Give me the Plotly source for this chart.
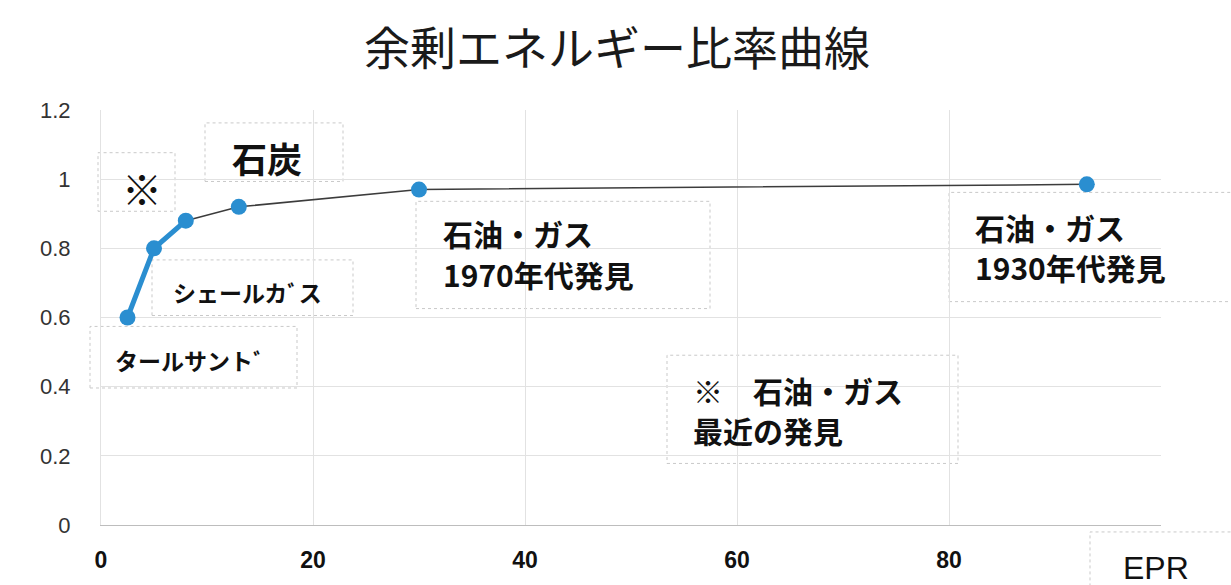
import plotly.graph_objects as go

# ---- data ----
epr = [2.5, 5.0, 8.0, 13.0, 30.0, 93.0]
ratio = [0.60, 0.80, 0.88, 0.92, 0.97, 0.985]
x_ticks = [0, 20, 40, 60, 80, 100]
x_tick_labels = ["0", "20", "40", "60", "80", ""]
y_ticks = [0, 0.2, 0.4, 0.6, 0.8, 1.0, 1.2]
y_tick_labels = ["0", "0.2", "0.4", "0.6", "0.8", "1", "1.2"]
title_text = "余剰エネルギー比率曲線"
label_texts = ["※", "石炭", "シェールカﾞス", "タールサントﾞ",
               "石油・ガス", "1970年代発見",
               "石油・ガス", "1930年代発見",
               "※　石油・ガス", "最近の発見"]
axis_label = "EPR"

W, H = 1231, 585
L, R, T, B = 101, 70, 110, 57
PW, PH = W - L - R, H - T - B


def px(x):
    return (x - L) / PW


def py(y):
    return (H - B - y) / PH


BLUE = "rgb(42,142,208)"
CJK = "Noto Sans CJK JP"

fig = go.Figure()
fig.add_trace(go.Scatter(x=epr[2:], y=ratio[2:], mode="lines",
                         line=dict(color="#3c3c3c", width=1.5), hoverinfo="skip"))
fig.add_trace(go.Scatter(x=epr[:3], y=ratio[:3], mode="lines",
                         line=dict(color=BLUE, width=5), hoverinfo="skip"))
fig.add_trace(go.Scatter(x=epr, y=ratio, mode="markers",
                         marker=dict(color=BLUE, size=16)))

# label boxes (pixel boxes) and text placement
boxes = [
    (98, 153, 175, 212),
    (205, 123, 343, 182),
    (152, 261, 353, 317),
    (90, 328, 297, 390),
    (416, 202, 710, 310),
    (949, 193, 1245, 303),
    (667, 357, 958, 466),
    (1090, 535, 1245, 600),
]
text_pos = [
    # (x, y, xanchor, size)
    (142, 189, "center", 40),
    (267, 158, "center", 35),
    (247, 293, "center", 23),
    (190, 362, "center", 23),
    (442, 234, "left", 30),
    (442, 275, "left", 30),
    (974, 228, "left", 30),
    (974, 268, "left", 30),
    (692, 392, "left", 30),
    (692, 432, "left", 30),
]

shapes = []
for (x0, y0, x1, y1) in boxes:
    shapes.append(dict(type="rect", xref="paper", yref="paper",
                       x0=px(x0), x1=px(x1), y0=py(y1), y1=py(y0),
                       line=dict(color="#c9c9c9", width=1, dash="dot"),
                       fillcolor="white", layer="between"))

annotations = []
for txt, (x, y, xa, s) in zip(label_texts, text_pos):
    annotations.append(dict(text=txt, xref="paper", yref="paper",
                            x=px(x), y=py(y), xanchor=xa, yanchor="middle",
                            showarrow=False, align="left", borderpad=0,
                            font=dict(family=CJK, size=s, color="#111111", weight="bold")))
annotations.append(dict(text=axis_label, xref="paper", yref="paper",
                        x=px(1156), y=py(571), xanchor="center", yanchor="middle",
                        showarrow=False,
                        font=dict(family="Liberation Sans", size=32, color="#111111")))

fig.update_layout(
    width=W, height=H,
    margin=dict(l=L, r=R, t=T, b=B),
    paper_bgcolor="white", plot_bgcolor="white",
    showlegend=False,
    title=dict(text=title_text, x=617 / W, xanchor="center",
               y=1 - 49 / H, yanchor="middle", yref="container",
               font=dict(family=CJK, size=46, color="#1a1a1a")),
    shapes=shapes,
    annotations=annotations,
    xaxis=dict(range=[0, 100], tickvals=x_ticks, ticktext=x_tick_labels,
               showgrid=True, gridcolor="#e2e2e2", gridwidth=1,
               zeroline=False, showline=True, linecolor="#bdbdbd", linewidth=1,
               ticks="", ticklabelstandoff=14,
               tickfont=dict(family="Liberation Sans", size=23, color="#111111", weight="bold")),
    yaxis=dict(range=[0, 1.2], tickvals=y_ticks, ticktext=y_tick_labels,
               showgrid=True, gridcolor="#e2e2e2", gridwidth=1,
               zeroline=False, showline=True, linecolor="#e2e2e2", linewidth=1,
               ticks="", ticklabelstandoff=25,
               tickfont=dict(family="Liberation Sans", size=22, color="#333333")),
)

fig.write_html("out.html")
